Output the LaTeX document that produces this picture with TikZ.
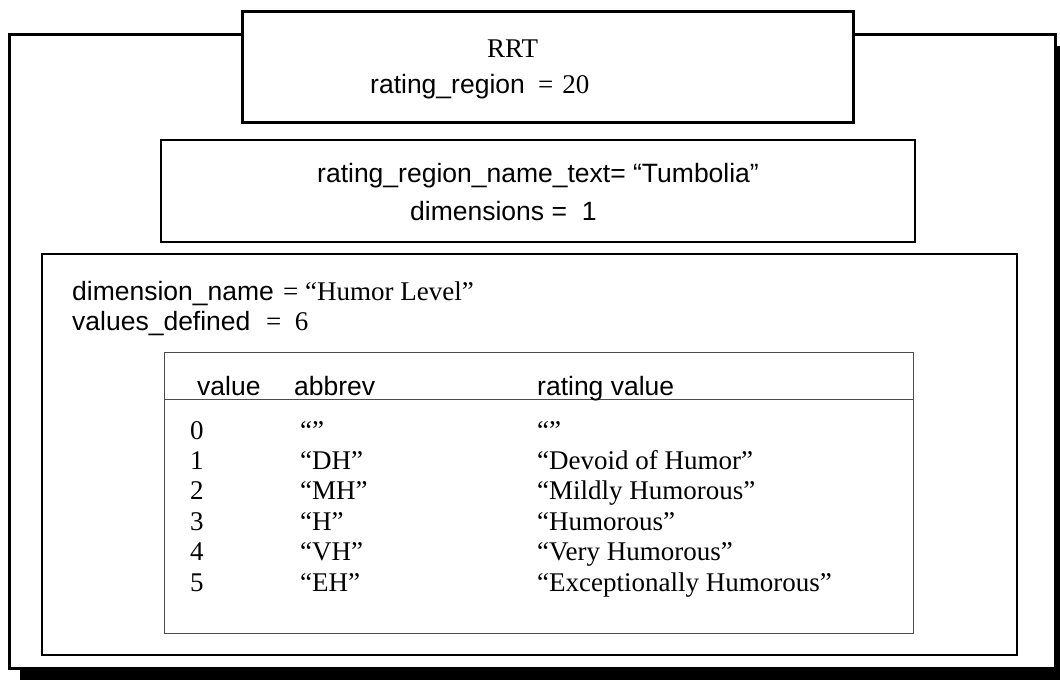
\documentclass[tikz,border=0pt]{standalone}
\usepackage{fontspec}
\setmainfont{Liberation Serif}
\setsansfont{Liberation Sans}
\usetikzlibrary{positioning}

\begin{document}
\begin{tikzpicture}[x=1pt, y=-1pt,
    sanslbl/.style={anchor=base west, inner sep=0pt,
      font=\sffamily\fontsize{26.5}{30}\selectfont},
    seriflbl/.style={anchor=base west, inner sep=0pt,
      font=\rmfamily\fontsize{27}{30}\selectfont},
    heavybox/.style={draw=black, fill=white, line width=3pt},
    framebox/.style={draw=black, fill=white, line width=2.5pt},
    tablebox/.style={draw=black!70, line width=1pt}]
  \useasboundingbox (0,0) rectangle (1060,681);
  \clip (0,0) rectangle (1060,681);
  % Outer frame with its drop shadow
  \fill[black] (20,46) rectangle (1070,680);
  \draw[heavybox] (9,34) rectangle (1055,668);
  % RRT header box
  \draw[heavybox] (242,11) rectangle (853,122);
  \node[seriflbl] (rrt) at (487,57) {RRT};
  \node[sanslbl] (regionlbl) at (370,93) {rating\_region};
  \node[seriflbl] (regionval) at (538,93) {=\,\,20};
  % Region name box
  \draw[framebox] (161,140) rectangle (915,242);
  \node[sanslbl] (namelbl) at (317,182) {rating\_region\_name\_text= “Tumbolia”};
  \node[sanslbl] (dimslbl) at (410,220) {dimensions =\ \ 1};
  % Dimension box
  \draw[framebox] (42,254) rectangle (1017,655);
  \node[sanslbl] (dimnamelbl) at (72,300) {dimension\_name};
  \node[seriflbl] (dimnameval) at (283,300) {= “Humor Level”};
  \node[sanslbl] (valdeflbl) at (72,330) {values\_defined};
  \node[seriflbl] (valdefval) at (266,330) {=\ \ 6};
  % Value table
  \draw[tablebox] (164,352) rectangle (913,633);
  \draw[tablebox] (164,399) -- (913,399);
  \node[sanslbl] (hdvalue) at (197,395) {value};
  \node[sanslbl] (hdabbrev) at (294,395) {abbrev};
  \node[sanslbl] (hdrating) at (537,395) {rating value};
  \foreach \v/\ab/\rv [count=\k from 0] in {0/“”/“”, 1/“DH”/“Devoid of Humor”,
      2/“MH”/“Mildly Humorous”, 3/“H”/“Humorous”, 4/“VH”/“Very Humorous”,
      5/“EH”/“Exceptionally Humorous”}{
    \node[seriflbl] (val\v) at (190,{439+30.4*\k}) {\v};
    \node[seriflbl] (abb\v) at (300,{439+30.4*\k}) {\ab};
    \node[seriflbl] (rat\v) at (537,{439+30.4*\k}) {\rv};
  }
\end{tikzpicture}
\end{document}
